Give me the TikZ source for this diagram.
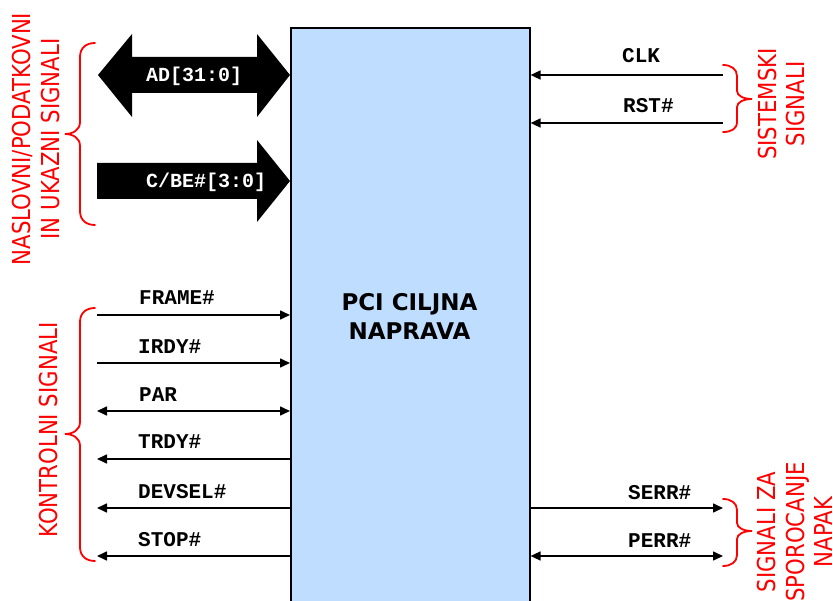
\documentclass[tikz,border=0pt]{standalone}
\usepackage{fontspec}
\setmainfont{DejaVu Sans}
\newfontfamily\monof{Liberation Mono}
\newfontfamily\redf[FakeStretch=0.86]{DejaVu Sans}
\usetikzlibrary{arrows.meta}
\definecolor{boxblue}{RGB}{191,222,255}
\definecolor{sigred}{RGB}{255,0,0}
\begin{document}
\begin{tikzpicture}[x=1pt,y=-1pt,
  sigr/.style={line width=1.6pt,-{Triangle[length=10pt,width=9pt]}},
  sigl/.style={line width=1.6pt,{Triangle[length=10pt,width=9pt]}-},
  sigb/.style={line width=1.6pt,{Triangle[length=10pt,width=9pt]}-{Triangle[length=10pt,width=9pt]}},
  lab/.style={anchor=base west,inner sep=0pt,font=\monof\bfseries\fontsize{21}{21}\selectfont},
  wlab/.style={anchor=base west,inner sep=0pt,text=white,font=\monof\bfseries\fontsize{20}{20}\selectfont},
  redtxt/.style={rotate=90,inner sep=0pt,text=sigred,align=center,font=\redf\fontsize{24.7}{28.5}\selectfont},
  bracestyle/.style={draw=sigred,line width=1.8pt,line cap=round},
  bus/.style={fill=black}]
\useasboundingbox (0,0) rectangle (833,601);
\clip (0,0) rectangle (833,601);
% main device
\node[draw,fill=boxblue,line width=1.6pt,minimum width=239pt,minimum height=600pt,anchor=north west,inner sep=0pt] (dev) at (290,27) {};
\node[align=center,inner sep=0pt,font=\bfseries\fontsize{23}{29}\selectfont] (title) at (409.5,316) {PCI CILJNA\\NAPRAVA};
% buses
\fill[bus] (98,75) -- (132,34) -- (132,57) -- (257,57) -- (257,34) -- (290,75) -- (257,117) -- (257,93) -- (132,93) -- (132,117) -- cycle;
\node[wlab] (adT) at (146,82) {AD[31:0]};
\fill[bus] (97,163) -- (257,163) -- (257,140) -- (290,181) -- (257,222) -- (257,199) -- (97,199) -- cycle;
\node[wlab] (cbeT) at (146,188) {C/BE\#[3:0]};
% control signals
\coordinate (frameE) at (97,315);
\coordinate (irdyE) at (97,363);
\coordinate (parE) at (97,411);
\coordinate (trdyE) at (97,459);
\coordinate (devselE) at (97,508);
\coordinate (stopE) at (97,556);
\draw[sigr] (frameE) -- (frameE -| dev.west);
\draw[sigr] (irdyE) -- (irdyE -| dev.west);
\draw[sigb] (parE) -- (parE -| dev.west);
\draw[sigl] (trdyE) -- (trdyE -| dev.west);
\draw[sigl] (devselE) -- (devselE -| dev.west);
\draw[sigl] (stopE) -- (stopE -| dev.west);
\node[lab] (frameT) at (139,305) {FRAME\#};
\node[lab] (irdyT) at (138,354) {IRDY\#};
\node[lab] (parT) at (139,402) {PAR};
\node[lab] (trdyT) at (138,449) {TRDY\#};
\node[lab] (devselT) at (138,498) {DEVSEL\#};
\node[lab] (stopT) at (138,546) {STOP\#};
% system signals
\coordinate (clkE) at (723,75);
\coordinate (rstE) at (723,123);
\draw[sigl] (clkE -| dev.east) -- (clkE);
\draw[sigl] (rstE -| dev.east) -- (rstE);
\node[lab] (clkT) at (622,63) {CLK};
\node[lab] (rstT) at (623,113) {RST\#};
% error signals
\coordinate (serrE) at (723,508);
\coordinate (perrE) at (723,556);
\draw[sigr] (serrE -| dev.east) -- (serrE);
\draw[sigb] (perrE -| dev.east) -- (perrE);
\node[lab] (serrT) at (628,500) {SERR\#};
\node[lab] (perrT) at (628,547) {PERR\#};
% braces
\draw[bracestyle] (95,43) .. controls (86,43) and (80,48) .. (80,57) -- (80,122) .. controls (80,130) and (73,134) .. (65,134) .. controls (73,134) and (80,138) .. (80,146) -- (80,211) .. controls (80,220) and (86,225) .. (95,225);
\draw[bracestyle] (95,308) .. controls (86,308) and (80,313) .. (80,322) -- (80,422) .. controls (80,430) and (73,434) .. (65,434) .. controls (73,434) and (80,438) .. (80,446) -- (80,547) .. controls (80,556) and (86,561) .. (95,561);
\draw[bracestyle] (723,65) .. controls (731,65) and (737,69) .. (737,76) -- (737,91) .. controls (737,96) and (744,99) .. (752,99) .. controls (744,99) and (737,102) .. (737,107) -- (737,122) .. controls (737,129) and (731,132) .. (723,132);
\draw[bracestyle] (723,499) .. controls (731,499) and (737,503) .. (737,510) -- (737,523) .. controls (737,528) and (744,531) .. (752,531) .. controls (744,531) and (737,534) .. (737,539) -- (737,555) .. controls (737,562) and (731,566) .. (723,566);
% group labels
\node[redtxt] (addrL) at (36,139) {NASLOVNI/PODATKOVNI\\IN UKAZNI SIGNALI};
\node[redtxt] (ctrlL) at (49,430) {KONTROLNI SIGNALI};
\node[redtxt] (sysL) at (781.5,104) {SISTEMSKI\\SIGNALI};
\node[redtxt] (errL) at (795,532) {SIGNALI ZA\\SPOROCANJE\\NAPAK};
\end{tikzpicture}
\end{document}
